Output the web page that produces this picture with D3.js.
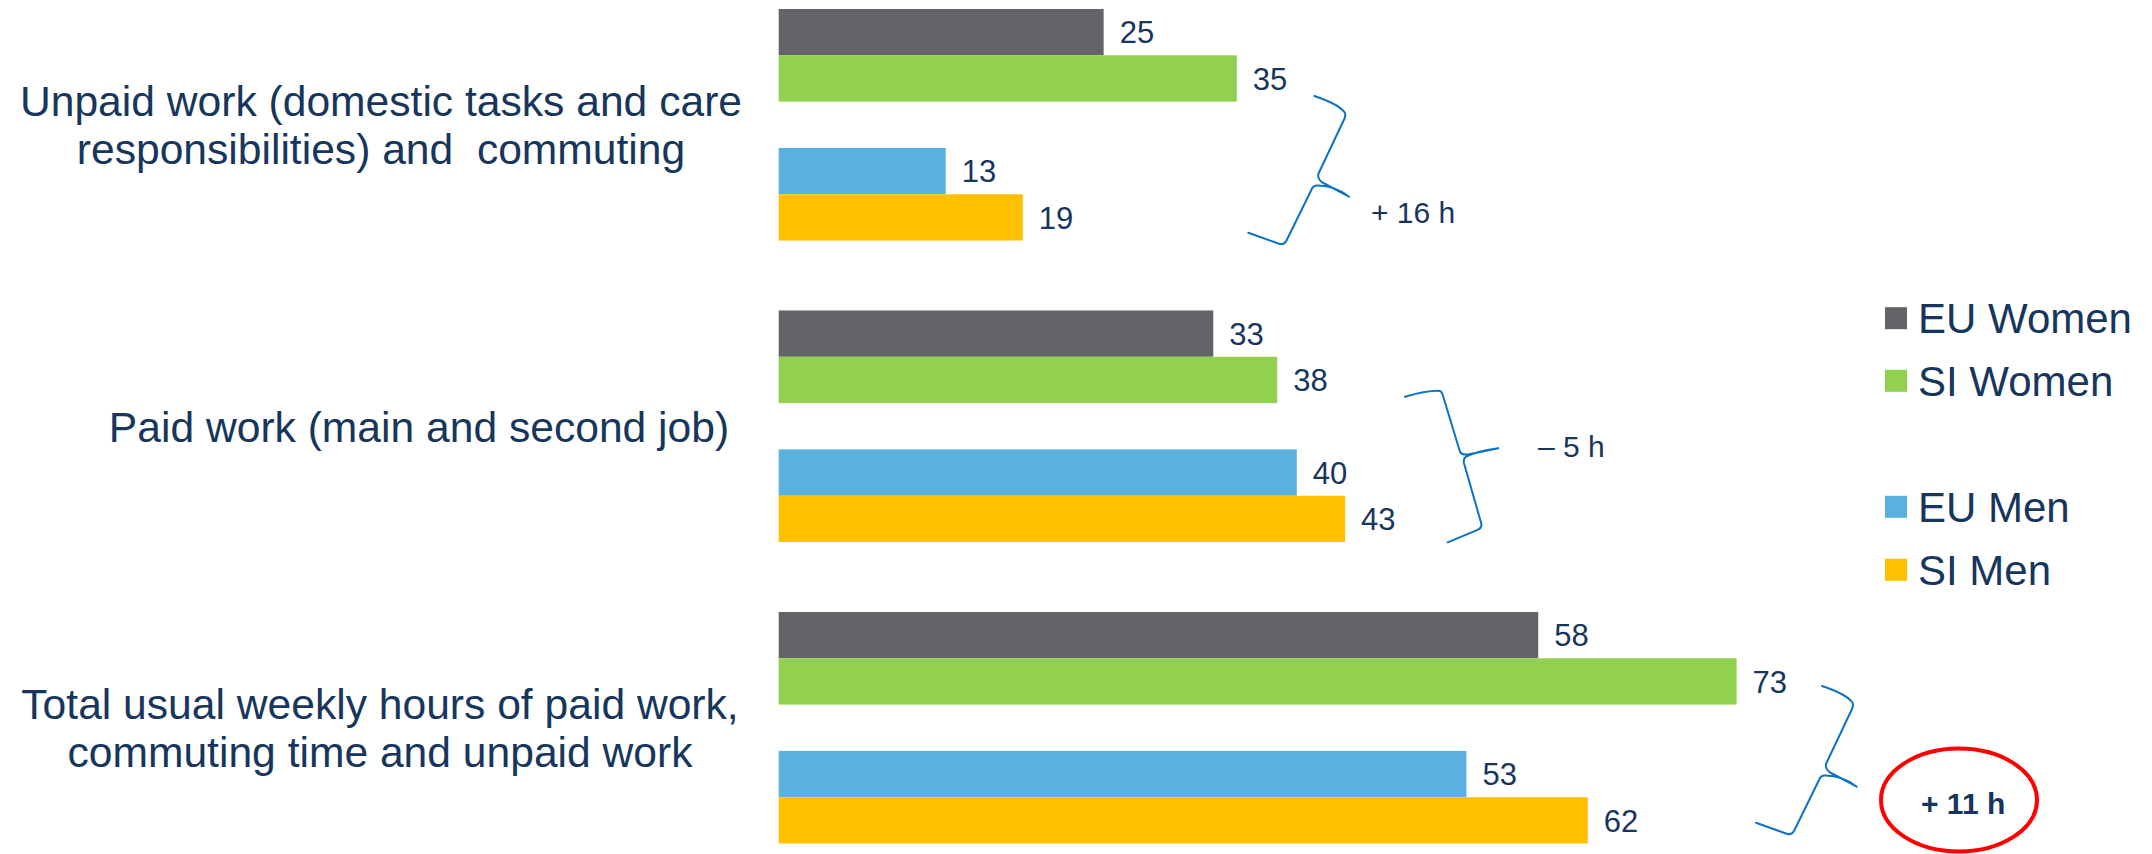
<!DOCTYPE html>
<html>
<head>
<meta charset="utf-8">
<script src="https://cdn.jsdelivr.net/npm/d3@7"></script>
<style>
  html, body { margin: 0; padding: 0; background: #ffffff; }
  svg { display: block; }
</style>
</head>
<body>
<div id="chart"></div>
<script>
// ---------- DATA ----------
const categories = [
  ["Unpaid work (domestic tasks and care", "responsibilities) and  commuting"],
  ["Paid work (main and second job)"],
  ["Total usual weekly hours of paid work,", "commuting time and unpaid work"]
];
const categoryKeys = ["unpaid", "paid", "total"];
const seriesNames = ["EU Women", "SI Women", "EU Men", "SI Men"];
// values (labels shown rounded)
const euWomen = [24.9, 33.3, 58.2];
const siWomen = [35.1, 38.2, 73.4];
const euMen   = [12.8, 39.7, 52.7];
const siMen   = [18.7, 43.4, 62.0];
const differenceLabels = ["+ 16 h", "\u2013 5 h", "+ 11 h"];

// ---------- STYLE / LAYOUT ----------
const W = 2152, H = 854;
const colors = { "EU Women": "#636467", "SI Women": "#92D050", "EU Men": "#5BB1DD", "SI Men": "#FFC000" };
const textColor = "#17365D";
const braceColor = "#0B72C6";
const font = "'Liberation Sans', Arial, Helvetica, sans-serif";
const fmt = d3.format(".0f");

const svg = d3.select("#chart").append("svg")
  .attr("width", W).attr("height", H);

const series = [
  { name: "EU Women", values: euWomen },
  { name: "SI Women", values: siWomen },
  { name: "EU Men", values: euMen },
  { name: "SI Men", values: siMen }
];

const x = d3.scaleLinear().domain([0, 80]).range([778.7, 778.7 + 80 * 13.05]);
const y = d3.scaleBand().domain(categoryKeys).range([9, 843.5]).paddingInner(0.232).paddingOuter(0);
const slot = d3.scaleBand()
  .domain(["EU Women", "SI Women", "_gap", "EU Men", "SI Men"])
  .range([0, y.bandwidth()]).padding(0);

// bars
const barData = [];
series.forEach(s => s.values.forEach((v, i) => barData.push({ s: s.name, cat: categoryKeys[i], v })));

svg.append("g").selectAll("rect").data(barData).join("rect")
  .attr("x", x(0))
  .attr("y", d => y(d.cat) + slot(d.s))
  .attr("width", d => x(d.v) - x(0))
  .attr("height", slot.bandwidth())
  .attr("fill", d => colors[d.s]);

// value labels
svg.append("g").selectAll("text").data(barData).join("text")
  .attr("x", d => x(d.v) + 16)
  .attr("y", d => y(d.cat) + slot(d.s) + slot.bandwidth() / 2)
  .attr("dy", "0.36em")
  .attr("font-family", font).attr("font-size", 31)
  .attr("fill", textColor)
  .text(d => fmt(d.v));

// category labels
const labelCenterX = [381, 419, 380];
const lineGap = 48.4;
categories.forEach((lines, i) => {
  const cy = y(categoryKeys[i]) + y.bandwidth() / 2;
  const t = svg.append("text")
    .attr("font-family", font).attr("font-size", 42.6)
    .attr("fill", textColor).attr("text-anchor", "middle")
    .attr("xml:space", "preserve");
  lines.forEach((ln, j) => {
    t.append("tspan")
      .attr("x", labelCenterX[i])
      .attr("y", cy + (j - (lines.length - 1) / 2) * lineGap)
      .attr("dy", "0.36em")
      .text(ln);
  });
});

// legend
const legendRowsY = [318.2, 380.8, 506.8, 569.8];
const lg = svg.append("g");
seriesNames.forEach((n, i) => {
  lg.append("rect").attr("x", 1885).attr("y", legendRowsY[i] - 11)
    .attr("width", 22).attr("height", 22).attr("fill", colors[n]);
  lg.append("text").attr("x", 1918).attr("y", legendRowsY[i])
    .attr("dy", "0.36em")
    .attr("font-family", font).attr("font-size", 42).attr("fill", textColor)
    .text(n);
});

// braces (hand-drawn style annotations)
const braceA = "M0,0 C15,5 27,11 30.7,17 Q31.5,20 30,23 L4,78 Q3,84 10,87.5 L34.7,100.7 Q20,89 2,89.5 Q-1,90 -2,92 L-28,145 Q-30.5,149.5 -36,147.5 L-66,136.7";
const braceB = "M0,0 Q20,-6 33,-6 Q36.5,-6 37.5,-2.5 L55,55 Q57,59 64,57.5 L93.3,51.6 Q70,55 61,60 Q58,62 59,66.6 L76.2,126.5 Q77.5,131 72,133.5 L42.7,145.6";
const braces = [
  { path: braceA, tx: 1314.3, ty: 96 },
  { path: braceB, tx: 1405, ty: 396.7 },
  { path: braceA, tx: 1822, ty: 686 }
];
svg.append("g").selectAll("path").data(braces).join("path")
  .attr("d", d => d.path)
  .attr("transform", d => `translate(${d.tx},${d.ty})`)
  .attr("fill", "none").attr("stroke", braceColor).attr("stroke-width", 2)
  .attr("stroke-linejoin", "round").attr("stroke-linecap", "round");

// difference labels
const diffPos = [
  { x: 1371, y: 222.7, bold: false },
  { x: 1538, y: 457.3, bold: false },
  { x: 1921, y: 814, bold: true }
];
differenceLabels.forEach((t, i) => {
  svg.append("text")
    .attr("x", diffPos[i].x).attr("y", diffPos[i].y)
    .attr("font-family", font).attr("font-size", 30)
    .attr("font-weight", diffPos[i].bold ? "bold" : "normal")
    .attr("fill", textColor)
    .text(t);
});

// red ellipse highlight
svg.append("ellipse")
  .attr("cx", 1959).attr("cy", 800).attr("rx", 78).attr("ry", 51.5)
  .attr("fill", "none").attr("stroke", "#FF0000").attr("stroke-width", 4);
</script>
</body>
</html>
